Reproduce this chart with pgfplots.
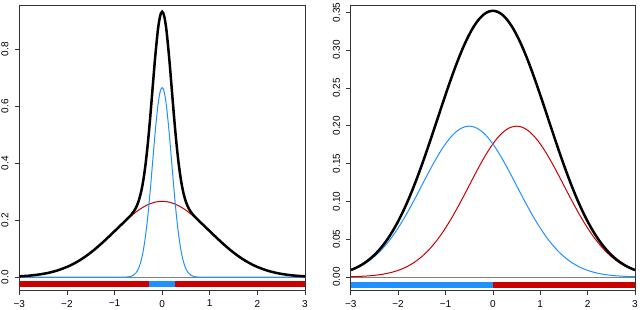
\documentclass[border=0pt]{standalone}
\usepackage{pgfplots}
\pgfplotsset{compat=1.18}
\usepackage{pgfplotstable}
\usepackage{fontspec}
\setmainfont{Liberation Sans}
\definecolor{rred}{RGB}{205,0,0}
\definecolor{rblue}{RGB}{30,144,255}

\pgfplotstableread{
x red blue black
-3.0 0.0030 0 0.0030
-2.8 0.0053 0 0.0053
-2.6 0.0091 0 0.0091
-2.4 0.0149 0 0.0149
-2.2 0.0236 0 0.0236
-2.0 0.0360 0 0.0360
-1.9 0.0437 0 0.0437
-1.8 0.0526 0 0.0526
-1.7 0.0627 0 0.0627
-1.6 0.0739 0 0.0739
-1.5 0.0863 0 0.0863
-1.4 0.0998 0 0.0998
-1.3 0.1142 0 0.1142
-1.2 0.1295 0 0.1295
-1.1 0.1452 0 0.1452
-1.0 0.1613 0 0.1613
-0.9 0.1774 0 0.1774
-0.8 0.1931 0.0002 0.1933
-0.75 0.2008 0.0006 0.2014
-0.7 0.2082 0.0015 0.2097
-0.65 0.2153 0.0034 0.2187
-0.6 0.2221 0.0074 0.2295
-0.55 0.2286 0.0152 0.2438
-0.5 0.2347 0.0292 0.2639
-0.45 0.2404 0.0529 0.2933
-0.4 0.2455 0.0900 0.3355
-0.35 0.2502 0.1438 0.3940
-0.3 0.2543 0.2159 0.4702
-0.25 0.2578 0.3044 0.5622
-0.2 0.2607 0.4033 0.6640
-0.15 0.2630 0.5019 0.7649
-0.1 0.2646 0.5868 0.8514
-0.075 0.2652 0.6198 0.8850
-0.05 0.2656 0.6445 0.9101
-0.025 0.2659 0.6597 0.9256
0 0.2660 0.6649 0.9309
0.025 0.2659 0.6597 0.9256
0.05 0.2656 0.6445 0.9101
0.075 0.2652 0.6198 0.8850
0.1 0.2646 0.5868 0.8514
0.15 0.2630 0.5019 0.7649
0.2 0.2607 0.4033 0.6640
0.25 0.2578 0.3044 0.5622
0.3 0.2543 0.2159 0.4702
0.35 0.2502 0.1438 0.3940
0.4 0.2455 0.0900 0.3355
0.45 0.2404 0.0529 0.2933
0.5 0.2347 0.0292 0.2639
0.55 0.2286 0.0152 0.2438
0.6 0.2221 0.0074 0.2295
0.65 0.2153 0.0034 0.2187
0.7 0.2082 0.0015 0.2097
0.75 0.2008 0.0006 0.2014
0.8 0.1931 0.0002 0.1933
0.9 0.1774 0 0.1774
1.0 0.1613 0 0.1613
1.1 0.1452 0 0.1452
1.2 0.1295 0 0.1295
1.3 0.1142 0 0.1142
1.4 0.0998 0 0.0998
1.5 0.0863 0 0.0863
1.6 0.0739 0 0.0739
1.7 0.0627 0 0.0627
1.8 0.0526 0 0.0526
1.9 0.0437 0 0.0437
2.0 0.0360 0 0.0360
2.2 0.0236 0 0.0236
2.4 0.0149 0 0.0149
2.6 0.0091 0 0.0091
2.8 0.0053 0 0.0053
3.0 0.0030 0 0.0030
}\leftdata

\pgfplotstableread{
x blue red black
-3.0 0.00877 0.00044 0.00921
-2.9 0.01120 0.00062 0.01182
-2.8 0.01416 0.00086 0.01502
-2.7 0.01774 0.00119 0.01893
-2.6 0.02199 0.00163 0.02362
-2.5 0.02700 0.00222 0.02922
-2.4 0.03281 0.00298 0.03579
-2.3 0.03948 0.00396 0.04344
-2.2 0.04703 0.00521 0.05224
-2.1 0.05546 0.00679 0.06225
-2.0 0.06476 0.00877 0.07353
-1.9 0.07486 0.01120 0.08606
-1.8 0.08568 0.01416 0.09984
-1.7 0.09709 0.01774 0.11483
-1.6 0.10893 0.02199 0.13092
-1.5 0.12098 0.02700 0.14798
-1.4 0.13304 0.03281 0.16585
-1.3 0.14485 0.03948 0.18433
-1.2 0.15613 0.04703 0.20316
-1.1 0.16661 0.05546 0.22207
-1.0 0.17603 0.06476 0.24079
-0.9 0.18413 0.07486 0.25899
-0.8 0.19069 0.08568 0.27637
-0.7 0.19552 0.09709 0.29261
-0.6 0.19847 0.10893 0.30740
-0.5 0.19947 0.12098 0.32045
-0.4 0.19847 0.13304 0.33151
-0.3 0.19552 0.14485 0.34037
-0.2 0.19069 0.15613 0.34682
-0.1 0.18413 0.16661 0.35074
0.0 0.17603 0.17603 0.35206
0.1 0.16661 0.18413 0.35074
0.2 0.15613 0.19069 0.34682
0.3 0.14485 0.19552 0.34037
0.4 0.13304 0.19847 0.33151
0.5 0.12098 0.19947 0.32045
0.6 0.10893 0.19847 0.30740
0.7 0.09709 0.19552 0.29261
0.8 0.08568 0.19069 0.27637
0.9 0.07486 0.18413 0.25899
1.0 0.06476 0.17603 0.24079
1.1 0.05546 0.16661 0.22207
1.2 0.04703 0.15613 0.20316
1.3 0.03948 0.14485 0.18433
1.4 0.03281 0.13304 0.16585
1.5 0.02700 0.12098 0.14798
1.6 0.02199 0.10893 0.13092
1.7 0.01774 0.09709 0.11483
1.8 0.01416 0.08568 0.09984
1.9 0.01120 0.07486 0.08606
2.0 0.00877 0.06476 0.07353
2.1 0.00679 0.05546 0.06225
2.2 0.00521 0.04703 0.05224
2.3 0.00396 0.03948 0.04344
2.4 0.00298 0.03281 0.03579
2.5 0.00222 0.02700 0.02922
2.6 0.00163 0.02199 0.02362
2.7 0.00119 0.01774 0.01893
2.8 0.00086 0.01416 0.01502
2.9 0.00062 0.01120 0.01182
3.0 0.00044 0.00877 0.00921
}\rightdata

\pgfplotsset{
  rstyle/.style={
    scale only axis,
    anchor=north west,
    xmin=-3, xmax=3,
    axis line style={black!80, line width=0.7pt},
    tick style={black!80, line width=0.7pt},
    tick align=outside,
    major tick length=4.3pt,
    xtick pos=bottom, ytick pos=left,
    xtick={-3,-2,-1,0,1,2,3},
    xticklabels={−3,−2,−1,0,1,2,3},
    ticklabel style={font=\fontsize{10}{12}\selectfont, black},
    yticklabel style={rotate=90, anchor=south},
    xticklabel shift=2pt,
    yticklabel shift=3pt,
  },
  thin line/.style={line width=1pt, smooth},
  thick line/.style={line width=2.5pt, smooth, black},
}

\begin{document}
\begin{tikzpicture}
\useasboundingbox (0pt,0pt) rectangle (640pt,309pt);

\begin{axis}[rstyle,
  at={(19.3pt,303.3pt)},
  width=285.7pt, height=284.5pt,
  ymin=-0.0456, ymax=0.952,
  ytick={0,0.2,0.4,0.6,0.8},
  yticklabels={0.0,0.2,0.4,0.6,0.8},
]
\addplot[gray, line width=0.7pt] coordinates {(-3,0) (3,0)};
\addplot[fill=rred, draw=none] coordinates {(-3,-0.014) (-0.276,-0.014) (-0.276,-0.036) (-3,-0.036)} --cycle;
\addplot[fill=rblue, draw=none] coordinates {(-0.276,-0.014) (0.276,-0.014) (0.276,-0.036) (-0.276,-0.036)} --cycle;
\addplot[fill=rred, draw=none] coordinates {(0.276,-0.014) (3,-0.014) (3,-0.036) (0.276,-0.036)} --cycle;
\addplot[thin line, rred] table[x=x, y=red] {\leftdata};
\addplot[thin line, rblue] table[x=x, y=blue] {\leftdata};
\addplot[thick line] table[x=x, y=black] {\leftdata};
\end{axis}

\begin{axis}[rstyle,
  at={(350.7pt,303.3pt)},
  width=284.3pt, height=285pt,
  ymin=-0.0181, ymax=0.3588,
  ytick={0,0.05,0.1,0.15,0.2,0.25,0.3,0.35},
  yticklabels={0.00,0.05,0.10,0.15,0.20,0.25,0.30,0.35},
]
\addplot[gray, line width=0.7pt] coordinates {(-3,0) (3,0)};
\addplot[fill=rblue, draw=none] coordinates {(-3,-0.0066) (0,-0.0066) (0,-0.0149) (-3,-0.0149)} --cycle;
\addplot[fill=rred, draw=none] coordinates {(0,-0.0066) (3,-0.0066) (3,-0.0149) (0,-0.0149)} --cycle;
\addplot[thin line, rred] table[x=x, y=red] {\rightdata};
\addplot[thin line, rblue] table[x=x, y=blue] {\rightdata};
\addplot[thick line] table[x=x, y=black] {\rightdata};
\end{axis}
\end{tikzpicture}
\end{document}
